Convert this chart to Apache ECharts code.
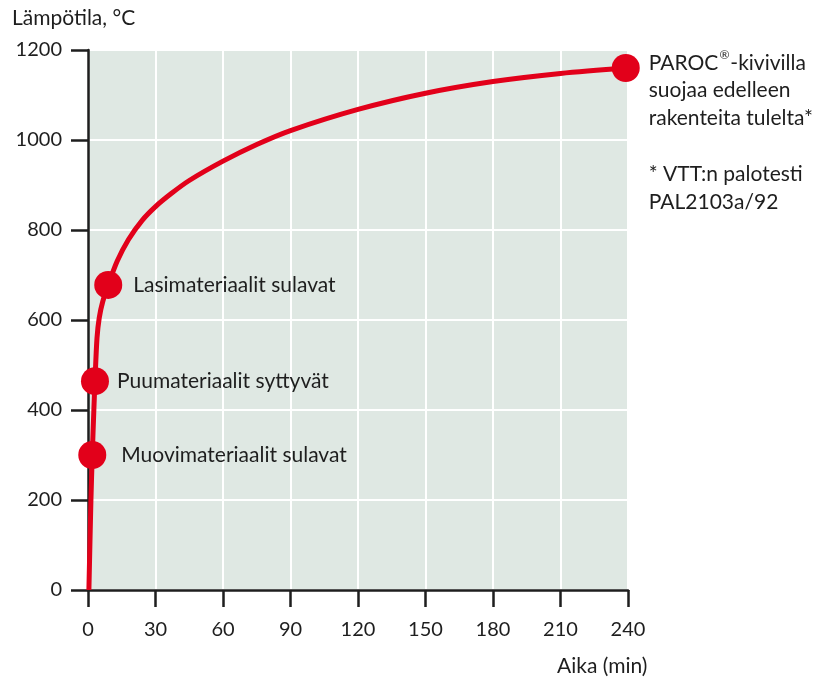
<!DOCTYPE html>
<html>
<head>
<meta charset="utf-8">
<script src="https://cdn.jsdelivr.net/npm/echarts@6/dist/echarts.min.js"></script>
<style>
  html, body { margin: 0; padding: 0; background: #ffffff; }
  #chart { width: 820px; height: 681px; }
</style>
</head>
<body>
<div id="chart"></div>
<script>
// Fire curve: temperature (°C) against time (min)
const curveTime = [0.4, 1.3, 1.9, 2.6, 3.1, 4.0, 5.0, 6.5, 9.0, 13, 18, 24, 30, 37, 45, 60, 75, 90, 120, 150, 180, 210, 240];
const curveTemp = [0, 200, 300, 400, 464, 560, 605, 640, 678, 731, 779, 821, 852, 881, 910, 953, 990, 1021, 1068, 1104, 1130, 1148, 1160];

// Events marked on the curve
const eventTime = [1.9, 3.1, 9.0, 239];
const eventTemp = [300, 464, 678, 1160];
const eventText = [
  'Muovimateriaalit sulavat',
  'Puumateriaalit syttyvät',
  'Lasimateriaalit sulavat',
  'PAROC{sup|®}-kivivilla\nsuojaa edelleen\nrakenteita tulelta*\n\n* VTT:n palotesti\nPAL2103a/92'
];

// Axis ticks
const xTicks = [0, 30, 60, 90, 120, 150, 180, 210, 240];
const yTicks = [0, 200, 400, 600, 800, 1000, 1200];

const xTitle = 'Aika (min)';
const yTitle = 'Lämpötila, °C';

const FONT = 'Lato';
const RED = '#e2001a';
const INK = '#1e1e1e';
const LABEL_SIZE = 21;
const LINE_H = 27.8;

const chart = echarts.init(document.getElementById('chart'), null, { renderer: 'canvas' });

// label placement for each event marker (distance from the dot)
const labelDist = [15, 8, 11];

const eventData = eventTime.map((t, i) => {
  const item = { value: [t, eventTemp[i]] };
  if (i < eventTime.length - 1) {
    item.label = {
      show: true, position: 'right', distance: labelDist[i],
      color: INK, fontSize: LABEL_SIZE, fontFamily: FONT,
      formatter: eventText[i]
    };
  } else {
    item.label = {
      show: true,
      position: [37, -5],
      align: 'left',
      verticalAlign: 'top',
      color: INK, fontSize: LABEL_SIZE, fontFamily: FONT,
      lineHeight: LINE_H,
      formatter: eventText[i],
      rich: {
        sup: { fontSize: 12, fontFamily: FONT, color: INK, verticalAlign: 'top', lineHeight: LINE_H, padding: [0, 1, 6, 1] }
      }
    };
  }
  return item;
});

const option = {
  animation: false,
  backgroundColor: '#ffffff',
  textStyle: { fontFamily: FONT },
  grid: {
    left: 88, top: 50, width: 540, height: 540,
    show: true, backgroundColor: '#dfe8e3', borderWidth: 0
  },
  xAxis: {
    type: 'value',
    min: xTicks[0], max: xTicks[xTicks.length - 1], interval: 30,
    axisLine: { show: true, onZero: false, lineStyle: { color: INK, width: 2.5 } },
    axisTick: { show: true, inside: false, length: 17, lineStyle: { color: INK, width: 2.5 } },
    axisLabel: { margin: 30, fontSize: 20, color: INK, fontFamily: FONT, formatter: v => String(v) },
    splitLine: { show: true, lineStyle: { color: '#ffffff', width: 2 } }
  },
  yAxis: {
    type: 'value',
    min: yTicks[0], max: yTicks[yTicks.length - 1], interval: 200,
    axisLine: { show: true, onZero: false, lineStyle: { color: INK, width: 2.5 } },
    axisTick: { show: true, inside: false, length: 17, lineStyle: { color: INK, width: 2.5 } },
    axisLabel: { margin: 26, fontSize: 20, color: INK, fontFamily: FONT, formatter: v => String(v) },
    splitLine: { show: true, lineStyle: { color: '#ffffff', width: 2 } }
  },
  graphic: [
    { type: 'text', left: 12, top: 8, style: { text: yTitle, fontSize: LABEL_SIZE, fontFamily: FONT, fill: INK } },
    { type: 'text', left: 557, top: 656, style: { text: xTitle, fontSize: LABEL_SIZE, fontFamily: FONT, fill: INK } }
  ],
  series: [
    {
      type: 'line',
      data: curveTime.map((t, i) => [t, curveTemp[i]]),
      smooth: 0.3,
      showSymbol: false,
      lineStyle: { color: RED, width: 5 },
      clip: false,
      z: 2
    },
    {
      type: 'scatter',
      data: eventData,
      symbol: 'circle',
      symbolSize: 28,
      itemStyle: { color: RED, opacity: 1 },
      label: { color: INK, fontSize: LABEL_SIZE, fontFamily: FONT },
      z: 3
    }
  ]
};

chart.setOption(option);
</script>
</body>
</html>
